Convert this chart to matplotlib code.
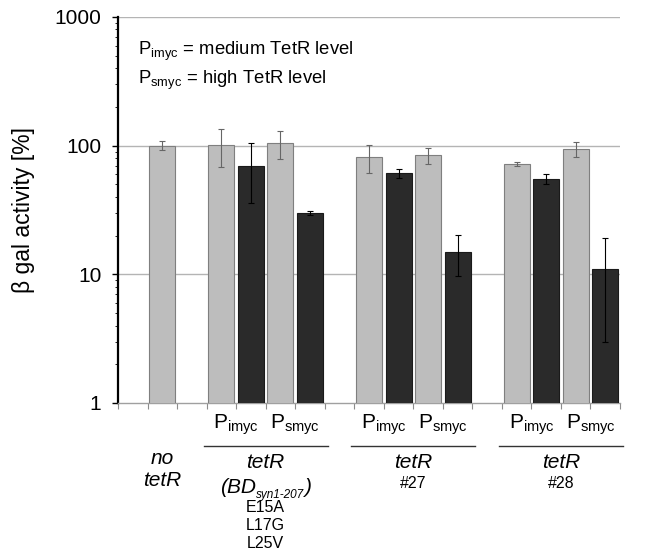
import matplotlib
matplotlib.use('Agg')
import matplotlib.pyplot as plt
import matplotlib.transforms as mtransforms
from matplotlib.ticker import LogLocator, NullFormatter, FixedLocator

plt.rcParams['font.family'] = ['Liberation Sans', 'DejaVu Sans']
plt.rcParams['mathtext.fontset'] = 'custom'
plt.rcParams['mathtext.rm'] = 'Liberation Sans'
plt.rcParams['mathtext.it'] = 'Liberation Sans:italic'

# data
no_tetr     = 100
no_tetr_err = 8
grey_imyc     = [101, 81, 72]
grey_imyc_err = [33, 20, 3]
dark_imyc     = [70, 61, 55]
dark_imyc_err = [34, 5, 5]
grey_smyc     = [104, 84, 94]
grey_smyc_err = [25, 12, 12]
dark_smyc     = [30, 15, 11]
dark_smyc_err = [1, 5.3, 8]
group_sub     = [None, '#27', '#28']
mutations     = ['E15A', 'L17G', 'L25V']

GREY = '#bdbdbd'
GREY_EDGE = '#7f7f7f'
DARK = '#2a2a2a'

W, H = 649, 552
fig = plt.figure(figsize=(W / 100, H / 100), dpi=100)
ax = fig.add_axes([118 / W, 1 - 403 / H, 502 / W, (403 - 17) / H])

bw = 0.88
cap = 2.5
ax.bar(1.5, no_tetr, bw, color=GREY, edgecolor=GREY_EDGE, lw=0.8, zorder=3)
ax.errorbar(1.5, no_tetr, yerr=no_tetr_err, fmt='none', ecolor='#666666',
            elinewidth=0.8, capsize=cap, capthick=0.8, zorder=4)

starts = [3, 8, 13]
for g, s in enumerate(starts):
    xs = [s + 0.5, s + 1.5, s + 2.5, s + 3.5]
    vals = [grey_imyc[g], dark_imyc[g], grey_smyc[g], dark_smyc[g]]
    errs = [grey_imyc_err[g], dark_imyc_err[g], grey_smyc_err[g], dark_smyc_err[g]]
    for k, (x, v, e) in enumerate(zip(xs, vals, errs)):
        grey = k % 2 == 0
        ax.bar(x, v, bw, color=GREY if grey else DARK,
               edgecolor=GREY_EDGE if grey else '#1a1a1a', lw=0.8, zorder=3)
        ax.errorbar(x, v, yerr=e, fmt='none',
                    ecolor='#666666' if grey else '#000000',
                    elinewidth=0.8, capsize=cap, capthick=0.8, zorder=4)

ax.set_yscale('log')
ax.set_ylim(1, 1000)
ax.set_xlim(0, 17)
ax.yaxis.set_major_locator(FixedLocator([1, 10, 100, 1000]))
ax.set_yticklabels(['1', '10', '100', '1000'], fontsize=15)
ax.yaxis.set_minor_locator(LogLocator(base=10, subs=range(2, 10)))
ax.yaxis.set_minor_formatter(NullFormatter())
ax.tick_params(axis='y', which='major', length=4, width=1, direction='out', pad=8)
ax.tick_params(axis='y', which='minor', length=2, width=0.6, direction='out')
ax.set_xticks(range(18))
ax.set_xticklabels([])
ax.tick_params(axis='x', length=4, width=0.8, color='#8c8c8c', direction='out')

for yv in [10, 100, 1000]:
    ax.axhline(yv, color='#b4b4b4', lw=1, zorder=1)

for side in ['top', 'right']:
    ax.spines[side].set_visible(False)
ax.spines['left'].set_linewidth(1.6)
ax.spines['left'].set_color('black')
ax.spines['bottom'].set_color('#a0a0a0')
ax.spines['bottom'].set_linewidth(1)

ax.set_ylabel('β gal activity [%]', fontsize=16.5)
ax.yaxis.set_label_coords(-0.165, 0.5)

ax.text(0.04, 0.91, r'P$_{\rm imyc}$ = medium TetR level', transform=ax.transAxes,
        fontsize=13.3, va='center')
ax.text(0.04, 0.835, r'P$_{\rm smyc}$ = high TetR level', transform=ax.transAxes,
        fontsize=13.3, va='center')

tr = mtransforms.blended_transform_factory(ax.transData, fig.transFigure)
def fy(py):
    return 1 - py / H

for s in starts:
    ax.text(s + 1, fy(425), r'P$_{\rm imyc}$', transform=tr, ha='center', va='center', fontsize=15)
    ax.text(s + 3, fy(425), r'P$_{\rm smyc}$', transform=tr, ha='center', va='center', fontsize=15)
    ax.plot([s - 0.1, s + 4.1], [fy(446), fy(446)], transform=tr, color='#333333',
            lw=1, clip_on=False)

ax.text(1.5, fy(459), 'no', transform=tr, ha='center', va='center', fontsize=15, style='italic')
ax.text(1.5, fy(480), 'tetR', transform=tr, ha='center', va='center', fontsize=15, style='italic')

for g, s in enumerate(starts):
    ax.text(s + 2, fy(463), 'tetR', transform=tr, ha='center', va='center',
            fontsize=15, style='italic')
    if group_sub[g]:
        ax.text(s + 2, fy(484), group_sub[g], transform=tr, ha='center', va='center',
                fontsize=11.5)

# (BD_syn1-207) built from italic pieces, centred under the first group
renderer = fig.canvas.get_renderer()
pieces = [('(BD', 15, 0), ('syn1-207', 8.5, -5), (')', 15, 0)]
base_y = 493
objs = []
for txt, fs, dy in pieces:
    t = fig.text(0, fy(base_y - dy), txt, fontsize=fs, style='italic', va='baseline', ha='left')
    objs.append(t)
widths = [t.get_window_extent(renderer).width for t in objs]
cx = ax.transData.transform((5, 0))[0]
x = cx - sum(widths) / 2
for t, w in zip(objs, widths):
    t.set_x(x / W)
    x += w

for j, m in enumerate(mutations):
    ax.text(5, fy(508 + 18 * j), m, transform=tr, ha='center', va='center', fontsize=11.5)

fig.savefig('out.png', dpi=100, facecolor='white')
